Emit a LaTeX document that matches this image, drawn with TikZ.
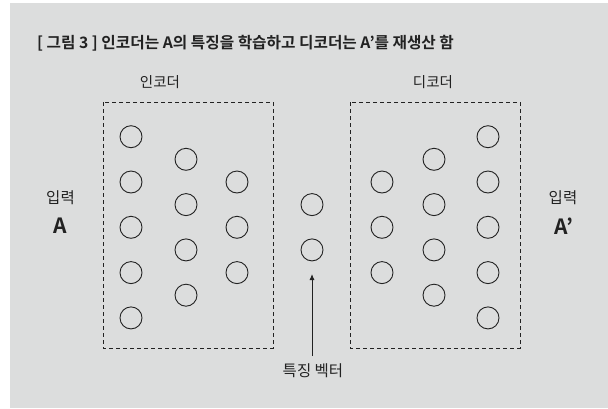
\documentclass[tikz,border=0pt]{standalone}
\usepackage{fontspec}
\setmainfont{Noto Sans CJK KR}
\newfontfamily\kbold{Noto Sans CJK KR Bold}
\usetikzlibrary{arrows.meta}
\definecolor{bg}{HTML}{DCDDDD}
\definecolor{ink}{HTML}{222222}
\tikzset{
  neuron/.style={circle, draw=ink, line width=0.9pt, minimum size=22pt, inner sep=0pt},
  dbox/.style={draw=ink, line width=0.8pt, dash pattern=on 4pt off 3pt},
  lbl/.style={text=ink, font=\fontsize{14.5}{16}\selectfont, inner sep=0pt},
  mid/.style={text=ink, font=\fontsize{15.5}{17}\selectfont, inner sep=0pt},
  big/.style={text=ink, font=\kbold\fontsize{21}{23}\selectfont, inner sep=0pt},
}
\begin{document}
\begin{tikzpicture}[x=1pt,y=-1pt]
\useasboundingbox (0,0) rectangle (608,408);
\fill[bg] (10,3) rectangle (608,408);
\node[text=ink, font=\kbold\fontsize{15.7}{17}\selectfont, anchor=west, inner sep=0pt] (title) at (37,43) {[ 그림 3 ] 인코더는 A의 특징을 학습하고 디코더는 A’를 재생산 함};
\node[lbl] (enc) at (160,82) {인코더};
\node[lbl] (dec) at (433,82) {디코더};
\draw[dbox] (103,102) rectangle (273,348);
\draw[dbox] (350,102) rectangle (520,348);
% encoder
\foreach \y [count=\i] in {136.7,182,227.3,272.6,317.9} \node[neuron] (e1\i) at (131,\y) {};
\foreach \y [count=\i] in {159.3,204.6,249.9,295.2} \node[neuron] (e2\i) at (186,\y) {};
\foreach \y [count=\i] in {182,227.3,272.6} \node[neuron] (e3\i) at (237,\y) {};
% latent
\node[neuron] (z1) at (312,204.6) {};
\node[neuron] (z2) at (312,249.9) {};
% decoder
\foreach \y [count=\i] in {182,227.3,272.6} \node[neuron] (d1\i) at (382,\y) {};
\foreach \y [count=\i] in {159.3,204.6,249.9,295.2} \node[neuron] (d2\i) at (434,\y) {};
\foreach \y [count=\i] in {136.7,182,227.3,272.6,317.9} \node[neuron] (d3\i) at (488,\y) {};
% labels
\node[mid] (inL) at (60.5,197.5) {입력};
\node[big] (AL) at (60.5,226) {A};
\node[mid] (inR) at (563,197.5) {입력};
\node[big] (AR) at (564,226) {A’};
\node[mid] (feat) at (313,371) {특징 벡터};
\coordinate (arrS) at (312,356);
\draw[ink, line width=0.9pt, -{Latex[length=6pt,width=5pt]}] (arrS) -- (312,274);
\end{tikzpicture}
\end{document}
